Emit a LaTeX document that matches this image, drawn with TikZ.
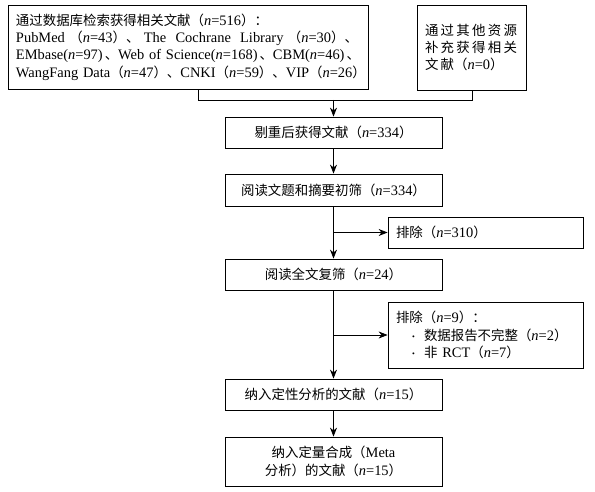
\documentclass[tikz,border=0pt]{standalone}
\usepackage{fontspec}
\setmainfont{Liberation Serif}
\newfontfamily\cjk[Scale=0.93]{Noto Sans CJK SC}
\usetikzlibrary{arrows.meta}
\newcommand\zh[1]{{\cjk #1}}
\newcommand\nn[1]{\zh{（}\textit{n}=#1\zh{）}}
\newcommand\nnt[1]{(\textit{n}=#1)\kern2bp}
\newcommand\ks{\kern2.3bp}
\newcommand\fixline[2]{\leavevmode\hbox to #1{#2}}
\newcommand\bul{\makebox[12bp][l]{\raisebox{1bp}{\fontsize{8}{8}\selectfont •}}}
\begin{document}
\begin{tikzpicture}[x=1bp,y=-1bp,
  every node/.style={font=\fontsize{14.5}{17.5}\selectfont},
  box/.style={draw, line width=0.8bp, inner ysep=0pt, inner xsep=8bp},
  conn/.style={line width=0.8bp},
  arr/.style={conn, -{Stealth[length=9bp,width=7bp]}}]
\useasboundingbox (0,0) rectangle (595,492);
\fill[white] (0,0) rectangle (595,492);

\node[box, text width=344bp, minimum height=84bp, align=left] (db) at (188,47)
  {\mbox{\zh{通过数据库检索获得相关文献}\nn{516}\zh{：}}\\
   \fixline{342bp}{PubMed\hfil\nn{43}\zh{、}\hfil The\hfil\ Cochrane\hfil\ Library\hfil\nn{30}\zh{、}}\\
   \fixline{342bp}{EMbase\nnt{97}\zh{、}\hfil Web\hfil\ of\hfil\ Science\nnt{168}\zh{、}\hfil CBM\nnt{46}\zh{、}}\\
   \fixline{332bp}{WangFang\hfil\ Data\hfil\nn{47}\zh{、}\hfil CNKI\hfil\nn{59}\zh{、}\hfil VIP\hfil\nn{26}}};
\node[box, text width=93bp, minimum height=85bp, align=left] (other) at (471.5,47.5)
  {\zh{通\ks 过\ks 其\ks 他\ks 资\ks 源}\\ \zh{补\ks 充\ks 获\ks 得\ks 相\ks 关}\\ \zh{文\ks 献}\nn{0}};
\node[box, text width=201bp, minimum height=31bp, align=center] (dedup) at (333.5,132.5)
  {\zh{剔重后获得文献}\nn{334}};
\node[box, text width=201bp, minimum height=32bp, align=center] (screen) at (333.5,190)
  {\zh{阅读文题和摘要初筛}\nn{334}};
\node[box, text width=179bp, minimum height=31bp, align=left] (ex1) at (485.5,232.5)
  {\zh{排除}\nn{310}};
\node[box, text width=201bp, minimum height=31bp, align=center] (full) at (333.5,274.5)
  {\zh{阅读全文复筛}\nn{24}};
\node[box, text width=179bp, minimum height=66bp, align=left] (ex2) at (485.5,335)
  {\zh{排除}\nn{9}\zh{：}\\
   \hspace*{16bp}\bul\zh{数据报告不完整}\nn{2}\\
   \hspace*{16bp}\bul\zh{非} RCT\nn{7}};
\node[box, text width=201bp, minimum height=31bp, align=center] (qual) at (333.5,394.5)
  {\zh{纳入定性分析的文献}\nn{15}};
\node[box, text width=201bp, minimum height=49bp, align=center] (meta) at (333.5,461.5)
  {\zh{纳入定量合成（}Meta\\ \zh{分析）的文献}\nn{15}};

\coordinate (m1) at (198,100);
\coordinate (m2) at (472,100);
\coordinate (mc) at (333.5,100);
\coordinate (j1) at (333.5,232.5);
\coordinate (j2) at (333.5,335);
\draw[conn] (db.south -| m1) -- (m1) -- (m2) -- (other.south -| m2);
\draw[arr] (mc) -- (mc |- dedup.north);
\draw[arr] (dedup) -- (screen);
\draw[arr] (screen) -- (full);
\draw[arr] (j1) -- (j1 -| ex1.west);
\draw[arr] (full) -- (qual);
\draw[arr] (j2) -- (j2 -| ex2.west);
\draw[arr] (qual) -- (meta);
\end{tikzpicture}
\end{document}
